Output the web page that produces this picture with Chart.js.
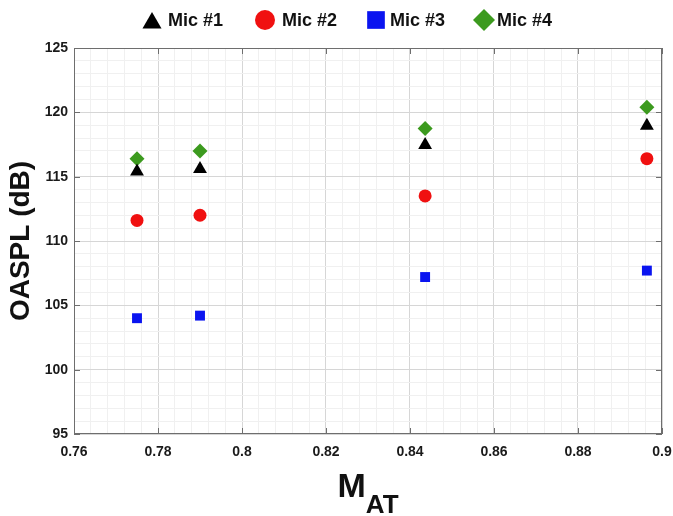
<!DOCTYPE html>
<html>
<head>
<meta charset="utf-8">
<script src="https://cdn.jsdelivr.net/npm/chart.js@4/dist/chart.umd.min.js"></script>
<style>
  body { margin: 0; background: #fff; }
  canvas { display: block; }
</style>
</head>
<body>
<canvas id="chart" width="673" height="516"></canvas>
<script>
// Mach number for each run
const machAT = [0.775, 0.79, 0.8436, 0.8964];

// OASPL (dB) per microphone
const mic1 = [115.4, 115.6, 117.46, 118.96];
const mic2 = [111.6, 112.0, 113.5, 116.4];
const mic3 = [104.0, 104.2, 107.2, 107.7];
const mic4 = [116.4, 117.0, 118.75, 120.4];

const seriesNames = ['Mic #1', 'Mic #2', 'Mic #3', 'Mic #4'];
const seriesColors = ['#000000', '#f01010', '#0a14f0', '#3c9a1e'];
const seriesShapes = ['triangle', 'circle', 'rect', 'rectRot'];
const seriesValues = [mic1, mic2, mic3, mic4];

const xTicks = [0.76, 0.78, 0.8, 0.82, 0.84, 0.86, 0.88, 0.9];
const yTicks = [95, 100, 105, 110, 115, 120, 125];

const FONT = '"Liberation Sans", Arial, sans-serif';
const markerRadius = [8, 6.5, 7, 7.5];
const legendRadius = [11, 10, 12.5, 11];
const legendMarkerX = [152, 265, 376, 484];
const legendTextX = [168, 282, 390, 497];

const isMajor = (v, list) => list.some(t => Math.abs(t - v) < 1e-6);

const datasets = seriesValues.map((vals, i) => ({
    label: seriesNames[i],
    data: machAT.map((x, j) => ({ x: x, y: vals[j] })),
    pointStyle: seriesShapes[i],
    pointRadius: markerRadius[i],
    pointHoverRadius: markerRadius[i],
    backgroundColor: seriesColors[i],
    borderColor: seriesColors[i],
    borderWidth: 0
}));

const decorations = {
    id: 'decorations',
    afterDraw(chart) {
        const ctx = chart.ctx;
        const area = chart.chartArea;
        const xs = chart.scales.x;
        const ys = chart.scales.y;

        // box round the plot with inward ticks
        ctx.save();
        ctx.strokeStyle = '#6e6e6e';
        ctx.lineWidth = 1;
        ctx.strokeRect(area.left + 0.5, area.top + 0.5, area.right - area.left - 1, area.bottom - area.top - 1);
        ctx.beginPath();
        xTicks.forEach(t => {
            const px = Math.round(xs.getPixelForValue(t)) + 0.5;
            ctx.moveTo(px, area.bottom); ctx.lineTo(px, area.bottom - 6);
            ctx.moveTo(px, area.top); ctx.lineTo(px, area.top + 6);
        });
        yTicks.forEach(t => {
            const py = Math.round(ys.getPixelForValue(t)) + 0.5;
            ctx.moveTo(area.left, py); ctx.lineTo(area.left + 6, py);
            ctx.moveTo(area.right, py); ctx.lineTo(area.right - 6, py);
        });
        ctx.stroke();
        ctx.restore();

        // legend
        ctx.save();
        ctx.font = 'bold 18px ' + FONT;
        ctx.textBaseline = 'middle';
        ctx.textAlign = 'left';
        seriesNames.forEach((name, i) => {
            ctx.fillStyle = seriesColors[i];
            const cy = seriesShapes[i] === 'triangle' ? 23 : 20;
            Chart.helpers.drawPoint(ctx, {
                pointStyle: seriesShapes[i], radius: legendRadius[i], rotation: 0, borderWidth: 0
            }, legendMarkerX[i], cy);
            ctx.fillStyle = '#111';
            ctx.fillText(name, legendTextX[i], 21);
        });
        ctx.restore();

        // y axis title
        ctx.save();
        ctx.fillStyle = '#111';
        ctx.font = 'bold 28px ' + FONT;
        ctx.textAlign = 'center';
        ctx.textBaseline = 'middle';
        ctx.translate(21, (area.top + area.bottom) / 2);
        ctx.rotate(-Math.PI / 2);
        ctx.fillText('OASPL (dB)', 0, 0);
        ctx.restore();

        // x axis title: M with subscript AT
        ctx.save();
        ctx.fillStyle = '#111';
        ctx.textBaseline = 'alphabetic';
        ctx.textAlign = 'left';
        ctx.font = 'bold 34px ' + FONT;
        const wM = ctx.measureText('M').width;
        ctx.font = 'bold 26px ' + FONT;
        const wSub = ctx.measureText('AT').width;
        const startX = (area.left + area.right) / 2 - (wM + wSub) / 2;
        ctx.font = 'bold 34px ' + FONT;
        ctx.fillText('M', startX, 497);
        ctx.font = 'bold 26px ' + FONT;
        ctx.fillText('AT', startX + wM, 513);
        ctx.restore();
    }
};

new Chart(document.getElementById('chart'), {
    type: 'scatter',
    data: { datasets: datasets },
    plugins: [decorations],
    options: {
        responsive: false,
        animation: false,
        layout: { padding: { top: 48, right: 11, left: 0, bottom: 0 } },
        plugins: {
            legend: { display: false },
            tooltip: { enabled: false }
        },
        scales: {
            x: {
                type: 'linear',
                min: 0.76,
                max: 0.9,
                afterFit: s => { s.height = 82; s.paddingRight = 0; s.paddingLeft = 0; },
                border: { display: false },
                grid: {
                    drawTicks: false,
                    color: c => isMajor(c.tick.value, xTicks) ? '#d6d6d6' : '#f0f0f0',
                    lineWidth: 1
                },
                ticks: {
                    stepSize: 0.004,
                    autoSkip: false,
                    maxRotation: 0,
                    padding: 10,
                    color: '#1a1a1a',
                    font: { family: FONT, size: 14, weight: 'bold' },
                    callback: v => isMajor(v, xTicks) ? String(parseFloat(v.toFixed(2))) : ''
                }
            },
            y: {
                type: 'linear',
                min: 95,
                max: 125,
                afterFit: s => { s.width = 74; s.paddingTop = 0; s.paddingBottom = 0; },
                border: { display: false },
                grid: {
                    drawTicks: false,
                    color: c => isMajor(c.tick.value, yTicks) ? '#d6d6d6' : '#f0f0f0',
                    lineWidth: 1
                },
                ticks: {
                    stepSize: 1,
                    autoSkip: false,
                    padding: 6,
                    color: '#1a1a1a',
                    font: { family: FONT, size: 14, weight: 'bold' },
                    callback: v => isMajor(v, yTicks) ? String(v) : ''
                }
            }
        }
    }
});
</script>
</body>
</html>
